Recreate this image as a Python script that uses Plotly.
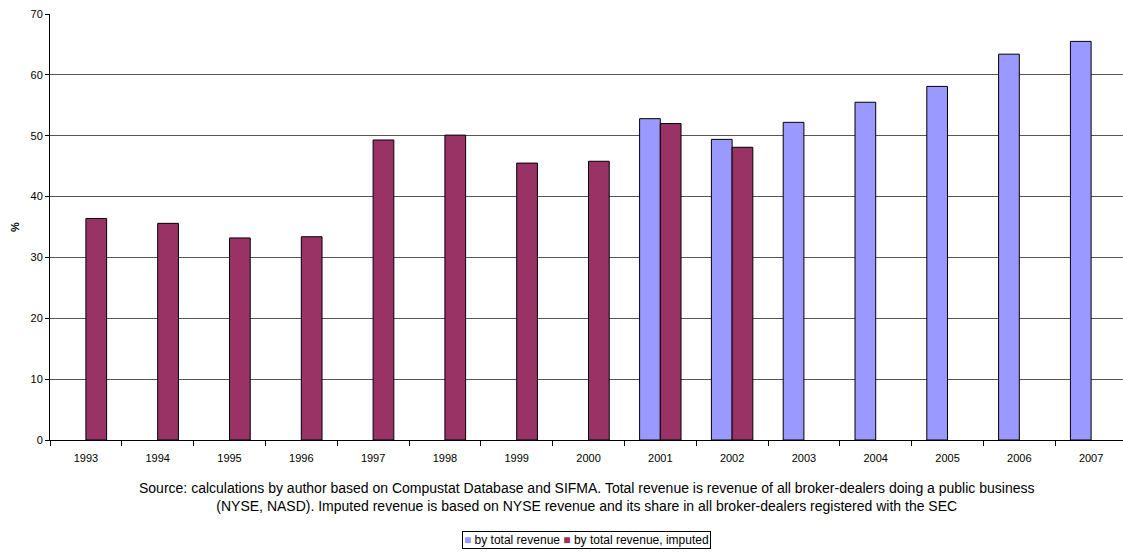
import plotly.graph_objects as go

years = ["1993", "1994", "1995", "1996", "1997", "1998", "1999", "2000",
         "2001", "2002", "2003", "2004", "2005", "2006", "2007"]
total_revenue = [None, None, None, None, None, None, None, None,
                 52.8, 49.4, 52.2, 55.5, 58.1, 63.4, 65.5]
imputed_revenue = [36.4, 35.6, 33.2, 33.4, 49.3, 50.1, 45.5, 45.8,
                   52.0, 48.1, None, None, None, None, None]
series_names = ["by total revenue", "by total revenue, imputed"]
series_colors = ["#9999FF", "#993366"]
y_ticks = [0, 10, 20, 30, 40, 50, 60, 70]
source_text = ("Source: calculations by author based on Compustat Database and SIFMA. "
               "Total revenue is revenue of all broker-dealers doing a public business<br>"
               "(NYSE, NASD). Imputed revenue is based on NYSE revenue and its share in "
               "all broker-dealers registered with the SEC")

FONT = "Liberation Sans, Arial, sans-serif"

fig = go.Figure()
for name, color, vals in zip(series_names, series_colors, [total_revenue, imputed_revenue]):
    fig.add_trace(go.Bar(x=years, y=vals, name=name, showlegend=False,
                         marker=dict(color=color, line=dict(color="#000000", width=1))))

legend_text = " ".join(
    f"<span style='color:{c}'>■</span> {n}" for n, c in zip(series_names, series_colors)
)

fig.update_layout(
    width=1123, height=552,
    margin=dict(l=50, r=0, t=14, b=112),
    paper_bgcolor="white", plot_bgcolor="white",
    barmode="group", bargap=0.423, bargroupgap=0,
    font=dict(family=FONT, size=11, color="black"),
    showlegend=False,
    xaxis=dict(type="category", range=[-0.5, 14.444], tickson="boundaries",
               ticks="outside", ticklen=5, tickcolor="black",
               showline=True, linecolor="black", linewidth=1,
               showgrid=False, tickfont=dict(size=11), ticklabelstandoff=8),
    yaxis=dict(range=[0, 70], tickvals=y_ticks, ticks="outside", ticklen=4,
               tickcolor="black", showline=True, linecolor="black", linewidth=1,
               showgrid=True, gridcolor="#555555", gridwidth=1,
               zeroline=False, tickfont=dict(size=11),
               title=dict(text="<b>%</b>", font=dict(size=11), standoff=8)),
    annotations=[
        dict(text=source_text, xref="paper", yref="paper",
             x=0.5, y=-0.089, xanchor="center", yanchor="top",
             showarrow=False, align="center",
             font=dict(size=14, family=FONT)),
        dict(text=legend_text, xref="paper", yref="paper",
             x=0.5, y=-0.2336, xanchor="center", yanchor="middle",
             showarrow=False, align="center",
             bordercolor="black", borderwidth=1, borderpad=1, bgcolor="white",
             font=dict(size=12, family=FONT)),
    ],
)

fig.write_html("out.html")
